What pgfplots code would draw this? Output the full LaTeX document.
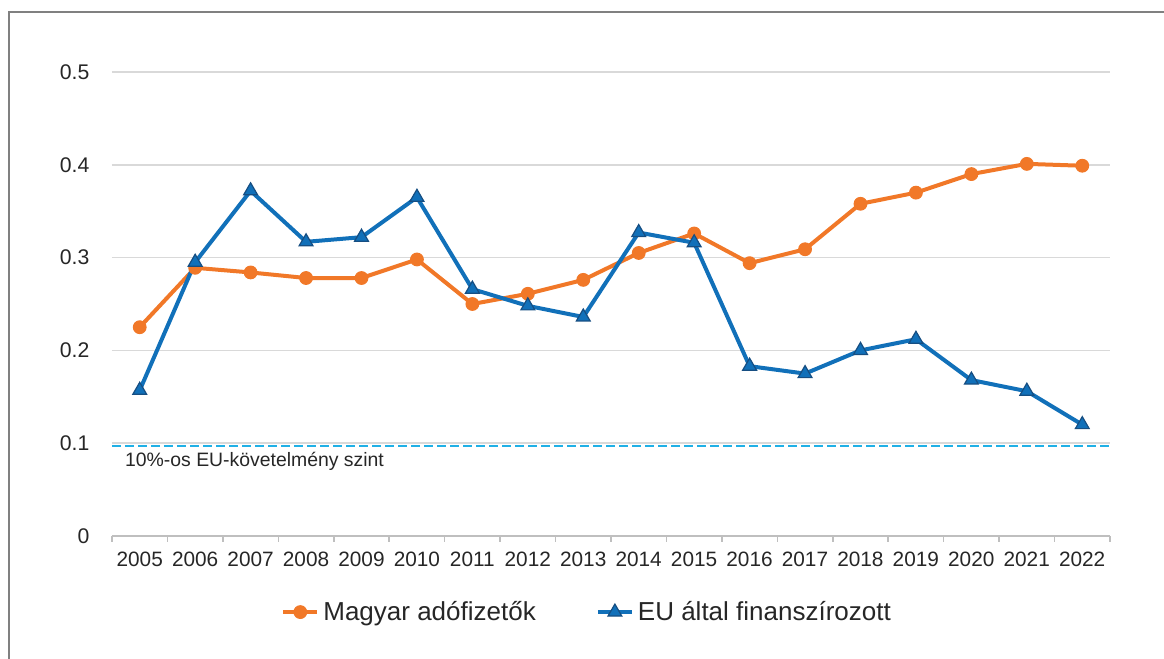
\documentclass[border=0pt]{standalone}
\usepackage{pgfplots}
\pgfplotsset{compat=1.18}
\usepackage{fontspec}
\setmainfont{Liberation Sans}
\definecolor{corange}{RGB}{241,120,40}
\definecolor{cblue}{RGB}{17,112,185}
\definecolor{cbluedark}{RGB}{22,78,130}
\definecolor{cdash}{RGB}{32,176,230}
\definecolor{cgrid}{RGB}{217,217,217}
\definecolor{caxis}{RGB}{191,191,191}
\definecolor{ctext}{RGB}{38,38,38}
\definecolor{cborder}{RGB}{128,128,128}
\begin{document}
\begin{tikzpicture}
\useasboundingbox (-56pt,-61.5pt) rectangle (526pt,268pt);
\begin{axis}[
  at={(0,0)}, anchor=south west,
  scale only axis, width=499pt, height=232pt,
  xmin=2004.5, xmax=2022.5, ymin=0, ymax=0.5,
  axis lines*=left,
  axis line style={-},
  y axis line style={draw=none},
  x axis line style={draw=caxis, line width=0.8pt},
  xtick={2005,...,2022},
  minor xtick={2004.5,2005.5,...,2022.5},
  major x tick style={draw=none},
  minor x tick style={draw=caxis, line width=0.8pt},
  minor tick length=3pt,
  tick align=outside,
  ytick={0,0.1,0.2,0.3,0.4,0.5},
  ytick style={draw=none},
  ymajorgrids, grid style={cgrid, line width=0.8pt},
  /pgf/number format/assume math mode=true,
  x tick label style={/pgf/number format/1000 sep={}, font=\fontsize{10.4}{12}\selectfont, text=ctext, yshift=0pt},
  y tick label style={font=\fontsize{10.6}{12}\selectfont, text=ctext, xshift=-3.5pt},
  legend style={at={(0.477,-0.164)}, anchor=center, draw=none, fill=none,
    font=\fontsize{13}{15}\selectfont, text=ctext,
    legend columns=2, /tikz/every even column/.append style={column sep=28pt}},
  legend cell align=left,
]
\addplot[cdash, line width=1.2pt, dash pattern=on 4.5pt off 2pt, forget plot] coordinates {(2004.5,0.097)(2022.5,0.097)};
\addplot[corange, line width=2pt, mark=*, mark size=3.2pt, mark options={fill=corange, draw=corange, line width=0.5pt}] coordinates {
(2005,0.225)(2006,0.289)(2007,0.284)(2008,0.278)(2009,0.278)(2010,0.298)
(2011,0.250)(2012,0.261)(2013,0.276)(2014,0.305)(2015,0.326)(2016,0.294)
(2017,0.309)(2018,0.358)(2019,0.370)(2020,0.390)(2021,0.401)(2022,0.399)};
\addlegendentry{Magyar adófizetők}
\addplot[cblue, line width=2pt, mark=triangle*, mark size=4pt, mark options={fill=cblue, draw=cbluedark, line width=0.6pt}] coordinates {
(2005,0.157)(2006,0.295)(2007,0.372)(2008,0.317)(2009,0.322)(2010,0.365)
(2011,0.266)(2012,0.248)(2013,0.236)(2014,0.327)(2015,0.316)(2016,0.183)
(2017,0.175)(2018,0.200)(2019,0.212)(2020,0.168)(2021,0.156)(2022,0.120)};
\addlegendentry{EU által finanszírozott}
\node[anchor=west, inner sep=0pt, font=\fontsize{9.7}{12}\selectfont, text=ctext] at (axis cs:2004.73,0.080) {10\%-os EU-követelmény szint};
\end{axis}
\draw[cborder, line width=0.8pt] (-51.5pt,-70pt) -- (-51.5pt,262pt) -- (535pt,262pt);
\end{tikzpicture}
\end{document}
